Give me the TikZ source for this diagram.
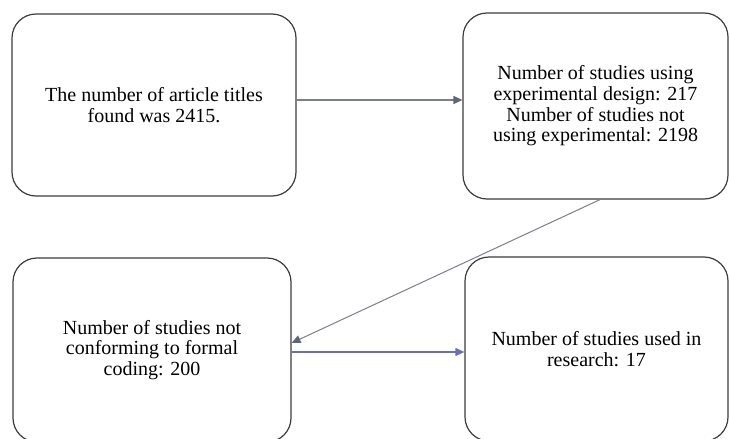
\documentclass[tikz,border=0pt]{standalone}
\usepackage{fontspec}
\setmainfont{Liberation Serif}
\usetikzlibrary{arrows.meta}
\definecolor{boxline}{HTML}{3C3C3C}
\definecolor{arrgray}{HTML}{7A7F88}
\definecolor{arrhead}{HTML}{5E6578}
\definecolor{arrblue}{HTML}{6C6CB8}
\tikzset{
  stagebox/.style={draw=boxline, line width=1.2pt, rounded corners=24pt, align=center,
    inner sep=0pt, font=\fontsize{20}{20.7}\selectfont},
  grayarr/.style={draw=arrgray, line width=1.3pt, -{Triangle[length=9pt,width=8pt,fill=arrhead,color=arrhead]}},
  bluearr/.style={draw=arrblue, line width=1.3pt, -{Triangle[length=9pt,width=8pt]}}
}
\begin{document}
\begin{tikzpicture}[x=1pt,y=-1pt]
\useasboundingbox (0,0) rectangle (729,439);
\node[stagebox, minimum width=284pt, minimum height=182pt] (b1) at (154,105)
  {The number of article titles\\found was 2415.};
\node[stagebox, minimum width=265pt, minimum height=186pt] (b2) at (595.5,106)
  {Number of studies using\\experimental design: 217\\Number of studies not\\using experimental: 2198};
\node[stagebox, minimum width=278pt, minimum height=184pt] (b3) at (152,350)
  {Number of studies not\\conforming to formal\\coding: 200};
\node[stagebox, minimum width=263pt, minimum height=184pt] (b4) at (596.5,349)
  {Number of studies used in\\research: 17};
\draw[grayarr] ([yshift=5pt]b1.east) -- ([yshift=5pt]b1.east -| b2.west);
\draw[grayarr, line width=1pt] ([xshift=4.5pt]b2.south) -- ([yshift=7pt]b3.east);
\draw[bluearr] ([yshift=-2pt]b3.east) -- ([yshift=-2pt]b3.east -| b4.west);
\end{tikzpicture}
\end{document}
